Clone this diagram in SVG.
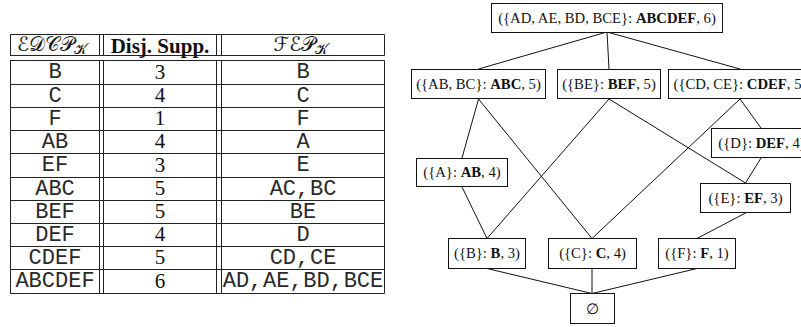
<svg xmlns="http://www.w3.org/2000/svg" width="801" height="327" viewBox="0 0 801 327">
  <style>
    .rule { stroke: #222; stroke-width: 1; fill: none; }
    .mono { font-family: "Liberation Mono", "DejaVu Sans Mono", monospace; font-size: 22px; fill: #2a2a2a; text-anchor: middle; }
    .num { font-family: "Liberation Serif", "DejaVu Serif", serif; font-size: 21px; fill: #111; text-anchor: middle; }
    .head { font-family: "Liberation Serif", "DejaVu Serif", serif; font-size: 21px; fill: #111; text-anchor: middle; }
    .cal { font-family: "DejaVu Sans", "Noto Sans", "Liberation Serif", serif; font-size: 20px; fill: #111; text-anchor: middle; }
    .node rect { fill: #fff; stroke: #111; stroke-width: 1; }
    .node text { font-family: "Liberation Serif", "DejaVu Serif", serif; font-size: 14.7px; fill: #111; text-anchor: middle; }
    .node .b { font-weight: bold; }
    #edges line { stroke: #111; stroke-width: 1; }
  </style>

  <!-- Table of closed patterns, disjunctive supports and free patterns -->
  <g id="table">
    <!-- header row box -->
    <g class="rule">
      <line x1="10" y1="34.5" x2="384.5" y2="34.5"/>
      <line x1="10" y1="55.5" x2="384.5" y2="55.5"/>
      <line x1="10.5" y1="34.5" x2="10.5" y2="55.5"/>
      <line x1="99.5" y1="34.5" x2="99.5" y2="55.5"/>
      <line x1="103.5" y1="34.5" x2="103.5" y2="55.5"/>
      <line x1="216.5" y1="34.5" x2="216.5" y2="55.5"/>
      <line x1="221.5" y1="34.5" x2="221.5" y2="55.5"/>
      <line x1="384.5" y1="34.5" x2="384.5" y2="55.5"/>
    </g>
    <text class="cal" x="52" y="51">ℰ𝒟𝒞𝒫<tspan font-size="14" dy="3">𝒦</tspan></text>
    <text class="head" x="160" y="52.5" font-weight="bold">Disj. Supp.</text>
    <text class="cal" x="301" y="51">ℱℰ𝒫<tspan font-size="14" dy="3">𝒦</tspan></text>

    <!-- body rules -->
    <g class="rule">
      <line x1="10" y1="60.5" x2="384.5" y2="60.5"/>
      <line x1="10" y1="84.5" x2="384.5" y2="84.5"/>
      <line x1="10" y1="107.5" x2="384.5" y2="107.5"/>
      <line x1="10" y1="130.5" x2="384.5" y2="130.5"/>
      <line x1="10" y1="153.5" x2="384.5" y2="153.5"/>
      <line x1="10" y1="177.5" x2="384.5" y2="177.5"/>
      <line x1="10" y1="200.5" x2="384.5" y2="200.5"/>
      <line x1="10" y1="223.5" x2="384.5" y2="223.5"/>
      <line x1="10" y1="246.5" x2="384.5" y2="246.5"/>
      <line x1="10" y1="269.5" x2="384.5" y2="269.5"/>
      <line x1="10" y1="293.5" x2="384.5" y2="293.5"/>
      <line x1="10.5" y1="60.5" x2="10.5" y2="293.5"/>
      <line x1="99.5" y1="60.5" x2="99.5" y2="293.5"/>
      <line x1="103.5" y1="60.5" x2="103.5" y2="293.5"/>
      <line x1="216.5" y1="60.5" x2="216.5" y2="293.5"/>
      <line x1="221.5" y1="60.5" x2="221.5" y2="293.5"/>
      <line x1="384.5" y1="60.5" x2="384.5" y2="293.5"/>
    </g>

    <!-- column 1: closed patterns -->
    <text class="mono" x="55" y="78">B</text>
    <text class="mono" x="55" y="101.5">C</text>
    <text class="mono" x="55" y="124.5">F</text>
    <text class="mono" x="55" y="147.5">AB</text>
    <text class="mono" x="55" y="171">EF</text>
    <text class="mono" x="55" y="194.5">ABC</text>
    <text class="mono" x="55" y="217.5">BEF</text>
    <text class="mono" x="55" y="240.5">DEF</text>
    <text class="mono" x="55" y="263.5">CDEF</text>
    <text class="mono" x="55" y="287">ABCDEF</text>

    <!-- column 2: disjunctive supports -->
    <text class="num" x="160" y="78.5">3</text>
    <text class="num" x="160" y="102">4</text>
    <text class="num" x="160" y="125">1</text>
    <text class="num" x="160" y="148">4</text>
    <text class="num" x="160" y="171.5">3</text>
    <text class="num" x="160" y="195">5</text>
    <text class="num" x="160" y="218">5</text>
    <text class="num" x="160" y="241">4</text>
    <text class="num" x="160" y="264">5</text>
    <text class="num" x="160" y="287.5">6</text>

    <!-- column 3: free patterns -->
    <g word-spacing="-12.5">
      <text class="mono" x="303" y="78">B</text>
      <text class="mono" x="303" y="101.5">C</text>
      <text class="mono" x="303" y="124.5">F</text>
      <text class="mono" x="303" y="147.5">A</text>
      <text class="mono" x="303" y="171">E</text>
      <text class="mono" x="303" y="194.5">AC, BC</text>
      <text class="mono" x="303" y="217.5">BE</text>
      <text class="mono" x="303" y="240.5">D</text>
      <text class="mono" x="303" y="263.5">CD, CE</text>
      <text class="mono" x="303" y="287">AD, AE, BD, BCE</text>
    </g>
  </g>

  <!-- Lattice connectors -->
  <g id="edges">
    <line x1="607" y1="32" x2="478.5" y2="69"/>
    <line x1="607" y1="32" x2="609" y2="69"/>
    <line x1="607" y1="32" x2="740" y2="69"/>
    <line x1="478.5" y1="99" x2="462" y2="158"/>
    <line x1="478.5" y1="99" x2="592" y2="238.5"/>
    <line x1="609" y1="99" x2="487" y2="238.5"/>
    <line x1="609" y1="99" x2="745.5" y2="183"/>
    <line x1="740" y1="99" x2="592" y2="238.5"/>
    <line x1="740" y1="99" x2="761" y2="128"/>
    <line x1="761" y1="158" x2="745.5" y2="183"/>
    <line x1="462" y1="187" x2="487" y2="238.5"/>
    <line x1="745.5" y1="213" x2="697" y2="238.5"/>
    <line x1="487" y1="268.5" x2="592" y2="293.5"/>
    <line x1="592" y1="268.5" x2="592" y2="293.5"/>
    <line x1="697" y1="268.5" x2="592" y2="293.5"/>
  </g>

  <!-- Lattice nodes -->
  <g id="n-abcdef" class="node">
    <rect x="491.5" y="3.5" width="231" height="29"/>
    <text x="607" y="22.5">({AD, AE, BD, BCE}: <tspan class="b">ABCDEF</tspan>, 6)</text>
  </g>
  <g id="n-abc" class="node">
    <rect x="411.5" y="69.5" width="134" height="29"/>
    <text x="478.5" y="88.5">({AB, BC}: <tspan class="b">ABC</tspan>, 5)</text>
  </g>
  <g id="n-bef" class="node">
    <rect x="557.5" y="69.5" width="103" height="29"/>
    <text x="609" y="88.5">({BE}: <tspan class="b">BEF</tspan>, 5)</text>
  </g>
  <g id="n-cdef" class="node">
    <rect x="668.5" y="69.5" width="143" height="29"/>
    <text x="740" y="88.5">({CD, CE}: <tspan class="b">CDEF</tspan>, 5)</text>
  </g>
  <g id="n-ab" class="node">
    <rect x="416.5" y="158.5" width="91" height="28"/>
    <text x="462" y="177">({A}: <tspan class="b">AB</tspan>, 4)</text>
  </g>
  <g id="n-def" class="node">
    <rect x="711.5" y="128.5" width="100" height="29"/>
    <text x="761.5" y="147.5">({D}: <tspan class="b">DEF</tspan>, 4)</text>
  </g>
  <g id="n-ef" class="node">
    <rect x="700.5" y="183.5" width="90" height="29"/>
    <text x="745.5" y="202.5">({E}: <tspan class="b">EF</tspan>, 3)</text>
  </g>
  <g id="n-b" class="node">
    <rect x="448.5" y="238.5" width="77" height="30"/>
    <text x="487" y="258">({B}: <tspan class="b">B</tspan>, 3)</text>
  </g>
  <g id="n-c" class="node">
    <rect x="548.5" y="238.5" width="88" height="30"/>
    <text x="592.5" y="258">({C}: <tspan class="b">C</tspan>, 4)</text>
  </g>
  <g id="n-f" class="node">
    <rect x="658.5" y="238.5" width="77" height="30"/>
    <text x="697" y="258">({F}: <tspan class="b">F</tspan>, 1)</text>
  </g>
  <g id="n-empty" class="node">
    <rect x="570.5" y="293.5" width="44" height="30"/>
    <text x="592.5" y="313.5" font-family="'DejaVu Sans', sans-serif" font-size="14">∅</text>
  </g>
</svg>
